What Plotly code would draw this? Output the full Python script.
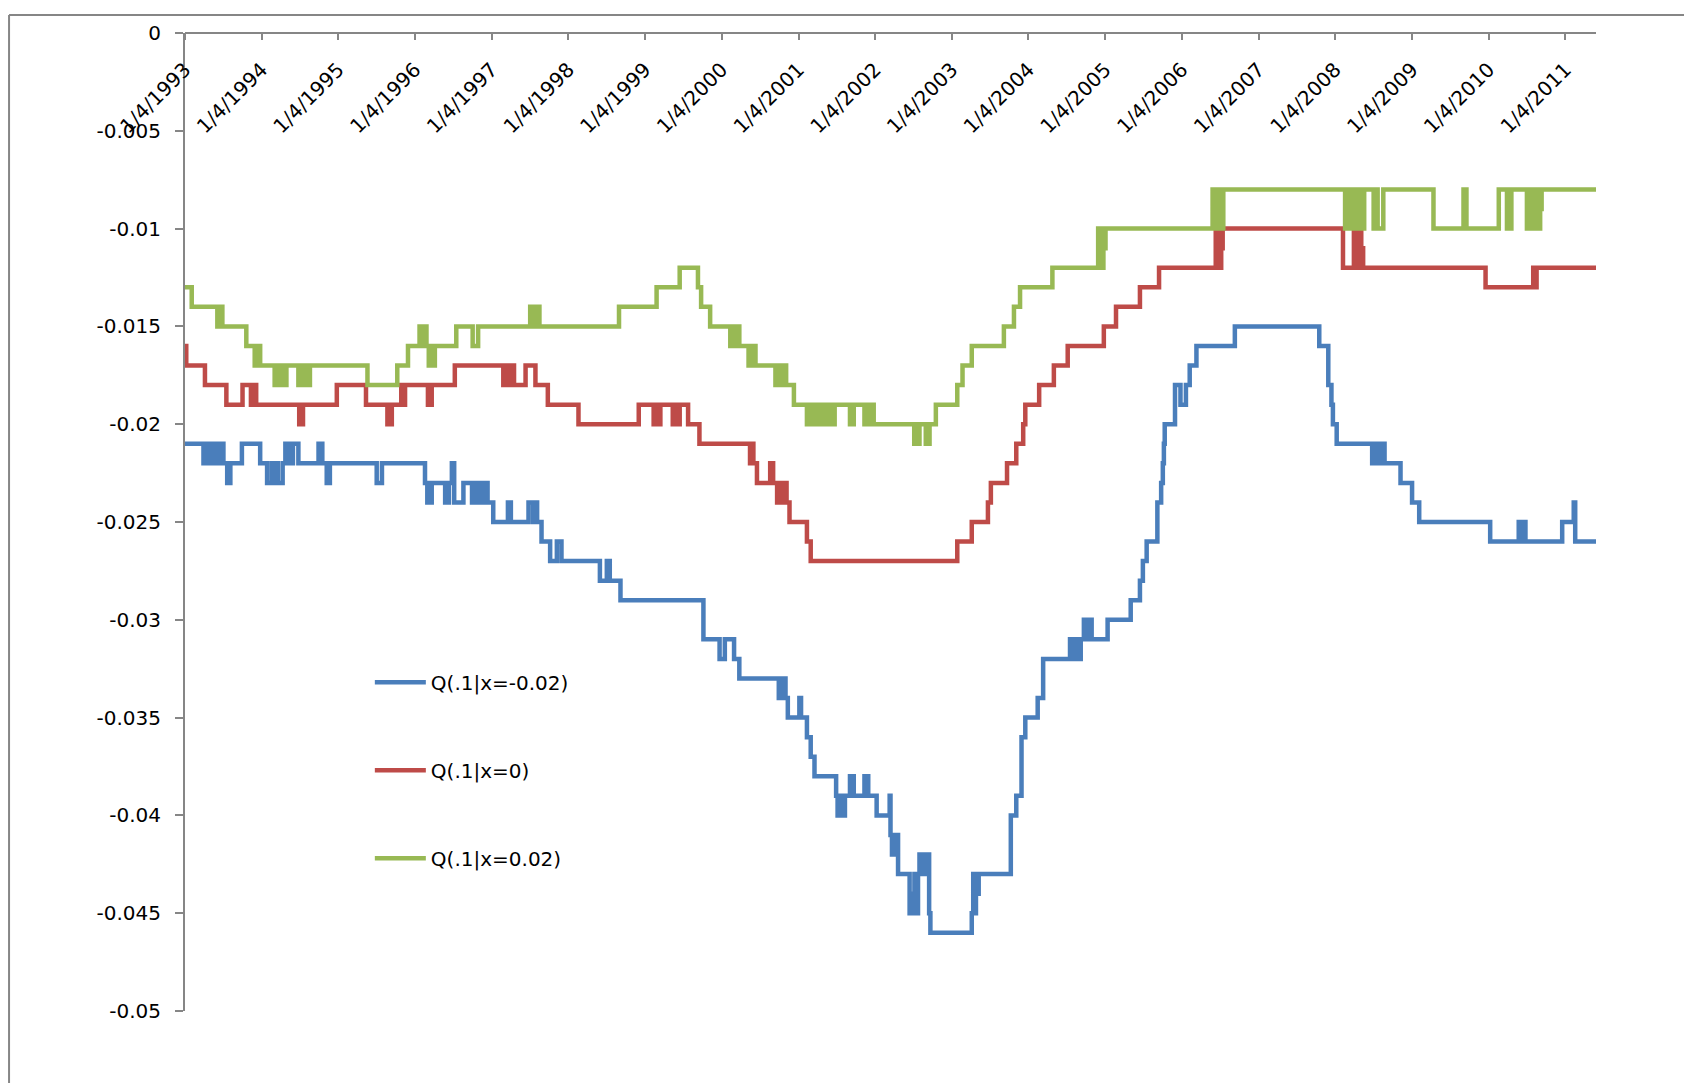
import plotly.graph_objects as go

# Step changes (date, level) for each conditional quantile series
blue_dates = [
    "1993-01-04", "1993-04-02", "1993-04-12", "1993-04-22", "1993-05-01", "1993-05-10", "1993-05-18",
    "1993-05-26", "1993-06-04", "1993-06-14", "1993-06-22", "1993-07-06", "1993-07-24", "1993-08-08",
    "1993-10-02", "1993-12-28", "1994-01-30", "1994-02-21", "1994-02-28", "1994-03-08", "1994-03-22",
    "1994-04-14", "1994-04-27", "1994-05-06", "1994-05-14", "1994-05-24", "1994-06-02", "1994-06-28",
    "1994-10-02", "1994-10-20", "1994-11-10", "1994-11-25", "1995-07-06", "1995-07-31", "1996-02-21",
    "1996-03-03", "1996-03-24", "1996-05-27", "1996-06-14", "1996-06-28", "1996-07-09", "1996-08-22",
    "1996-10-02", "1996-10-12", "1996-10-22", "1996-11-01", "1996-11-10", "1996-11-20", "1996-11-30",
    "1996-12-08", "1996-12-15", "1997-01-11", "1997-03-22", "1997-04-05", "1997-06-28", "1997-07-20",
    "1997-07-26", "1997-08-08", "1997-08-29", "1997-10-09", "1997-11-10", "1997-12-02", "1998-06-03",
    "1998-07-06", "1998-07-20", "1998-09-09", "1999-10-09", "1999-12-25", "2000-01-19", "2000-03-03",
    "2000-03-28", "2000-10-02", "2000-10-10", "2000-10-18", "2000-10-26", "2000-11-03", "2000-11-14",
    "2001-01-08", "2001-01-16", "2001-02-13", "2001-03-03", "2001-03-21", "2001-07-02", "2001-07-09",
    "2001-07-16", "2001-07-23", "2001-07-30", "2001-08-06", "2001-08-13", "2001-08-29", "2001-09-06",
    "2001-09-24", "2001-11-14", "2001-12-02", "2002-01-11", "2002-03-14", "2002-03-18", "2002-03-25",
    "2002-04-01", "2002-04-08", "2002-04-15", "2002-04-23", "2002-06-17", "2002-06-24", "2002-07-01",
    "2002-07-10", "2002-07-18", "2002-07-27", "2002-08-03", "2002-08-12", "2002-08-20", "2002-08-29",
    "2002-09-06", "2002-09-18", "2002-09-24", "2003-04-09", "2003-04-16", "2003-04-22", "2003-04-29",
    "2003-05-05", "2003-05-12", "2003-10-12", "2003-11-07", "2003-12-02", "2003-12-20", "2004-02-17",
    "2004-03-14", "2004-07-20", "2004-07-28", "2004-08-05", "2004-08-13", "2004-08-21", "2004-08-30",
    "2004-09-09", "2004-09-24", "2004-10-02", "2004-10-10", "2004-10-18", "2004-10-25", "2004-10-31",
    "2005-01-15", "2005-05-05", "2005-06-18", "2005-07-02", "2005-07-20", "2005-09-09", "2005-09-27",
    "2005-10-05", "2005-10-10", "2005-10-14", "2005-12-02", "2005-12-28", "2006-01-23", "2006-02-10",
    "2006-03-14", "2006-09-13", "2007-10-20", "2007-12-02", "2007-12-17", "2007-12-24", "2008-01-11",
    "2008-06-28", "2008-07-06", "2008-07-13", "2008-07-20", "2008-07-28", "2008-08-08", "2008-08-26",
    "2008-11-10", "2009-01-04", "2009-02-07", "2010-01-11", "2010-05-27", "2010-06-05", "2010-06-12",
    "2010-06-28", "2010-12-20", "2011-02-13", "2011-02-20", "2011-05-30",
]
blue_vals = [
    -0.021, -0.022, -0.021, -0.022, -0.021, -0.022, -0.021,
    -0.022, -0.021, -0.022, -0.021, -0.022, -0.023, -0.022,
    -0.021, -0.022, -0.023, -0.022, -0.023, -0.022, -0.023,
    -0.022, -0.021, -0.022, -0.021, -0.022, -0.021, -0.022,
    -0.021, -0.022, -0.023, -0.022, -0.023, -0.022, -0.023,
    -0.024, -0.023, -0.024, -0.023, -0.022, -0.024, -0.023,
    -0.024, -0.023, -0.024, -0.023, -0.024, -0.023, -0.024,
    -0.023, -0.024, -0.025, -0.024, -0.025, -0.024, -0.025,
    -0.024, -0.025, -0.026, -0.027, -0.026, -0.027, -0.028,
    -0.027, -0.028, -0.029, -0.031, -0.032, -0.031, -0.032,
    -0.033, -0.034, -0.033, -0.034, -0.033, -0.034, -0.035,
    -0.034, -0.035, -0.036, -0.037, -0.038, -0.039, -0.040,
    -0.039, -0.040, -0.039, -0.040, -0.039, -0.039, -0.038,
    -0.039, -0.038, -0.039, -0.040, -0.039, -0.041, -0.042,
    -0.041, -0.042, -0.041, -0.043, -0.045, -0.044, -0.045,
    -0.043, -0.045, -0.043, -0.042, -0.043, -0.042, -0.043,
    -0.042, -0.045, -0.046, -0.045, -0.043, -0.045, -0.043,
    -0.044, -0.043, -0.040, -0.039, -0.036, -0.035, -0.034,
    -0.032, -0.031, -0.032, -0.031, -0.032, -0.031, -0.032,
    -0.031, -0.030, -0.031, -0.030, -0.031, -0.030, -0.031,
    -0.030, -0.029, -0.028, -0.027, -0.026, -0.024, -0.023,
    -0.022, -0.021, -0.020, -0.018, -0.019, -0.018, -0.017,
    -0.016, -0.015, -0.016, -0.018, -0.019, -0.020, -0.021,
    -0.022, -0.021, -0.022, -0.021, -0.022, -0.021, -0.022,
    -0.023, -0.024, -0.025, -0.026, -0.025, -0.026, -0.025,
    -0.026, -0.025, -0.024, -0.026, -0.026,
]

red_dates = [
    "1993-01-04", "1993-01-10", "1993-04-09", "1993-07-20", "1993-10-05", "1993-11-14", "1993-11-22",
    "1993-11-30", "1993-12-04", "1993-12-09", "1994-07-02", "1994-07-20", "1994-12-28", "1995-05-16",
    "1995-08-26", "1995-09-16", "1995-10-31", "1995-11-08", "1995-11-18", "1996-03-06", "1996-03-24",
    "1996-07-12", "1997-02-28", "1997-03-08", "1997-03-17", "1997-03-25", "1997-04-03", "1997-04-12",
    "1997-04-20", "1997-06-14", "1997-07-31", "1997-09-28", "1998-02-21", "1998-12-05", "1999-02-14",
    "1999-02-24", "1999-03-04", "1999-03-18", "1999-05-16", "1999-05-24", "1999-06-01", "1999-06-18",
    "1999-07-28", "1999-09-20", "2000-05-18", "2000-05-26", "2000-06-03", "2000-06-20", "2000-08-22",
    "2000-09-05", "2000-09-24", "2000-10-02", "2000-10-10", "2000-10-17", "2000-10-24", "2000-11-01",
    "2000-11-08", "2000-11-22", "2001-02-13", "2001-03-03", "2003-01-30", "2003-04-09", "2003-06-25",
    "2003-07-09", "2003-09-24", "2003-11-07", "2003-12-10", "2003-12-20", "2004-02-24", "2004-05-04",
    "2004-07-09", "2004-12-28", "2005-02-24", "2005-06-18", "2005-09-17", "2006-06-14", "2006-06-20",
    "2006-06-27", "2006-07-03", "2006-07-10", "2006-07-17", "2008-02-10", "2008-04-02", "2008-04-09",
    "2008-04-16", "2008-04-23", "2008-04-30", "2008-05-07", "2008-05-16", "2009-12-20", "2010-08-04",
    "2010-08-12", "2010-08-20", "2011-05-30",
]
red_vals = [
    -0.016, -0.017, -0.018, -0.019, -0.018, -0.019, -0.018,
    -0.019, -0.018, -0.019, -0.020, -0.019, -0.018, -0.019,
    -0.020, -0.019, -0.018, -0.019, -0.018, -0.019, -0.018,
    -0.017, -0.018, -0.017, -0.018, -0.017, -0.018, -0.017,
    -0.018, -0.017, -0.018, -0.019, -0.020, -0.019, -0.020,
    -0.019, -0.020, -0.019, -0.020, -0.019, -0.020, -0.019,
    -0.020, -0.021, -0.022, -0.021, -0.022, -0.023, -0.022,
    -0.023, -0.024, -0.023, -0.024, -0.023, -0.024, -0.023,
    -0.024, -0.025, -0.026, -0.027, -0.026, -0.025, -0.024,
    -0.023, -0.022, -0.021, -0.020, -0.019, -0.018, -0.017,
    -0.016, -0.015, -0.014, -0.013, -0.012, -0.010, -0.012,
    -0.010, -0.012, -0.011, -0.010, -0.012, -0.010, -0.012,
    -0.010, -0.012, -0.010, -0.011, -0.012, -0.013, -0.012,
    -0.013, -0.012, -0.012,
]

green_dates = [
    "1993-01-04", "1993-02-05", "1993-06-07", "1993-06-14", "1993-06-21", "1993-06-25", "1993-07-01",
    "1993-10-23", "1993-12-02", "1993-12-09", "1993-12-16", "1993-12-21", "1993-12-28", "1994-03-07",
    "1994-03-18", "1994-03-28", "1994-04-08", "1994-04-18", "1994-05-02", "1994-06-28", "1994-07-07",
    "1994-07-14", "1994-07-27", "1994-08-08", "1994-08-22", "1995-05-23", "1995-10-12", "1995-12-02",
    "1996-01-26", "1996-02-05", "1996-02-14", "1996-02-28", "1996-03-10", "1996-03-20", "1996-03-28",
    "1996-04-08", "1996-07-19", "1996-10-05", "1996-10-31", "1997-07-06", "1997-07-14", "1997-07-24",
    "1997-08-04", "1997-08-10", "1997-08-19", "1998-09-02", "1999-02-28", "1999-06-18", "1999-09-13",
    "1999-09-28", "1999-11-10", "2000-02-14", "2000-02-24", "2000-03-06", "2000-03-14", "2000-03-28",
    "2000-05-11", "2000-05-20", "2000-05-30", "2000-06-05", "2000-06-13", "2000-09-16", "2000-09-28",
    "2000-10-10", "2000-10-20", "2000-11-06", "2000-12-13", "2001-02-13", "2001-02-20", "2001-02-27",
    "2001-03-06", "2001-03-14", "2001-03-20", "2001-03-29", "2001-04-05", "2001-04-12", "2001-04-20",
    "2001-04-28", "2001-05-08", "2001-05-16", "2001-05-25", "2001-06-05", "2001-06-14", "2001-06-20",
    "2001-06-25", "2001-09-06", "2001-09-24", "2001-11-14", "2001-11-22", "2001-12-01", "2001-12-10",
    "2001-12-28", "2002-07-09", "2002-07-20", "2002-07-25", "2002-08-03", "2002-09-02", "2002-09-20",
    "2002-10-20", "2003-01-30", "2003-02-24", "2003-04-09", "2003-09-09", "2003-10-27", "2003-11-25",
    "2004-04-27", "2004-12-01", "2004-12-07", "2004-12-13", "2004-12-19", "2004-12-26", "2005-01-01",
    "2005-01-05", "2006-05-30", "2006-06-06", "2006-06-13", "2006-06-20", "2006-06-28", "2006-07-05",
    "2006-07-12", "2006-07-20", "2008-02-20", "2008-02-27", "2008-03-05", "2008-03-12", "2008-03-19",
    "2008-03-26", "2008-04-02", "2008-04-09", "2008-04-16", "2008-04-23", "2008-04-30", "2008-05-07",
    "2008-05-14", "2008-05-21", "2008-07-05", "2008-07-20", "2008-07-24", "2008-08-20", "2009-04-16",
    "2009-09-06", "2009-09-20", "2010-02-21", "2010-04-01", "2010-04-22", "2010-07-05", "2010-07-12",
    "2010-07-19", "2010-07-26", "2010-08-02", "2010-08-09", "2010-08-16", "2010-08-23", "2010-08-30",
    "2010-09-06", "2010-09-13", "2011-05-30",
]
green_vals = [
    -0.013, -0.014, -0.015, -0.014, -0.015, -0.014, -0.015,
    -0.016, -0.017, -0.016, -0.017, -0.016, -0.017, -0.018,
    -0.017, -0.018, -0.017, -0.018, -0.017, -0.018, -0.017,
    -0.018, -0.017, -0.018, -0.017, -0.018, -0.017, -0.016,
    -0.015, -0.016, -0.015, -0.016, -0.017, -0.016, -0.017,
    -0.016, -0.015, -0.016, -0.015, -0.014, -0.015, -0.014,
    -0.015, -0.014, -0.015, -0.014, -0.013, -0.012, -0.013,
    -0.014, -0.015, -0.016, -0.015, -0.016, -0.015, -0.016,
    -0.017, -0.016, -0.017, -0.016, -0.017, -0.018, -0.017,
    -0.018, -0.017, -0.018, -0.019, -0.020, -0.019, -0.020,
    -0.019, -0.020, -0.019, -0.020, -0.019, -0.020, -0.019,
    -0.020, -0.019, -0.020, -0.019, -0.020, -0.019, -0.020,
    -0.019, -0.020, -0.019, -0.020, -0.019, -0.020, -0.019,
    -0.020, -0.021, -0.020, -0.021, -0.020, -0.021, -0.020,
    -0.019, -0.018, -0.017, -0.016, -0.015, -0.014, -0.013,
    -0.012, -0.010, -0.012, -0.010, -0.012, -0.010, -0.011,
    -0.010, -0.008, -0.010, -0.008, -0.010, -0.008, -0.009,
    -0.010, -0.008, -0.010, -0.008, -0.010, -0.008, -0.010,
    -0.008, -0.010, -0.008, -0.010, -0.009, -0.010, -0.008,
    -0.010, -0.008, -0.010, -0.008, -0.010, -0.008, -0.010,
    -0.008, -0.010, -0.008, -0.010, -0.008, -0.010, -0.008,
    -0.010, -0.008, -0.010, -0.008, -0.010, -0.008, -0.010,
    -0.009, -0.008, -0.008,
]

series_names = ["Q(.1|x=-0.02)", "Q(.1|x=0)", "Q(.1|x=0.02)"]
series_colors = ["#4A7EBB", "#BE4B48", "#98B954"]

year_ticks = [f"{y}-01-04" for y in range(1993, 2012)]
year_labels = [f"1/4/{y}" for y in range(1993, 2012)]
y_ticks = [round(-0.005 * i, 3) for i in range(11)]
y_labels = ["0", "-0.005", "-0.01", "-0.015", "-0.02", "-0.025",
            "-0.03", "-0.035", "-0.04", "-0.045", "-0.05"]

AXIS_GRAY = "#868686"
FONT = "DejaVu Sans"
FONT_SIZE = 20

fig = go.Figure()
for i, (d, v) in enumerate([(blue_dates, blue_vals), (red_dates, red_vals),
                            (green_dates, green_vals)]):
    fig.add_trace(go.Scatter(
        x=d, y=v, mode="lines", name=series_names[i],
        line=dict(color=series_colors[i], width=4.5, shape="hv"),
        legendgroup=f"g{i}",
    ))

fig.update_layout(
    width=1684, height=1083,
    margin=dict(l=185, r=88, t=33, b=72),
    paper_bgcolor="white", plot_bgcolor="white",
    font=dict(family=FONT, size=FONT_SIZE, color="black"),
    showlegend=True,
    legend=dict(
        x=0.131, y=0.356, xanchor="left", yanchor="top",
        bgcolor="rgba(0,0,0,0)", font=dict(family=FONT, size=FONT_SIZE, color="black"),
        tracegroupgap=59, itemwidth=51,
    ),
    xaxis=dict(
        type="date", range=["1993-01-04", "2011-05-30"],
        anchor="free", position=1, side="bottom",
        tickmode="array", tickvals=year_ticks, ticktext=year_labels,
        tickangle=-45, ticks="outside", ticklen=6, tickwidth=2, tickcolor=AXIS_GRAY,
        showline=True, linecolor=AXIS_GRAY, linewidth=2,
        showgrid=False, zeroline=False, ticklabelstandoff=10,
        tickfont=dict(family=FONT, size=FONT_SIZE, color="black"),
    ),
    yaxis=dict(
        range=[-0.05, 0], tickmode="array", tickvals=y_ticks, ticktext=y_labels,
        ticks="outside", ticklen=8, tickwidth=2, tickcolor=AXIS_GRAY,
        showline=True, linecolor=AXIS_GRAY, linewidth=2,
        showgrid=False, zeroline=False, ticklabelstandoff=10,
        tickfont=dict(family=FONT, size=FONT_SIZE, color="black"),
    ),
    shapes=[
        dict(type="line", xref="paper", yref="paper", x0=-0.1247, x1=-0.1247,
             y0=-0.08, y1=1.0184, line=dict(color=AXIS_GRAY, width=2)),
        dict(type="line", xref="paper", yref="paper", x0=-0.1247, x1=1.07,
             y0=1.0184, y1=1.0184, line=dict(color=AXIS_GRAY, width=2)),
    ],
)

fig.write_html("out.html", config={"displayModeBar": False})
